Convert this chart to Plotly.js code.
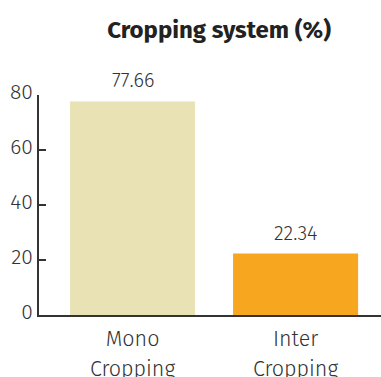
<!DOCTYPE html>
<html>
<head>
<meta charset="utf-8">
<script src="https://cdn.plot.ly/plotly-3.0.1.min.js"></script>
<style>html,body{margin:0;padding:0;background:#fff;}#chart{width:381px;height:377px;}</style>
</head>
<body>
<div id="chart"></div>
<script>
const categories = ["Mono Cropping", "Inter Cropping"];
const tickLines = [["Mono", "Cropping"], ["Inter", "Cropping"]];
const values = [77.66, 22.34];
const barColors = ["#e8e2b4", "#f6a61f"];
const yTicks = [0, 20, 40, 60, 80];

const fontFam = "Fira Sans, Noto Sans, Open Sans, sans-serif";
const lightFont = {family: fontFam, size: 20, color: "#333", weight: 300};

const trace = {
  type: "bar",
  x: categories,
  y: values,
  marker: {color: barColors, line: {width: 0}},
  hoverinfo: "none"
};

const annotations = categories.map((c, i) => ({
  x: c, y: values[i], xref: "x", yref: "y",
  text: values[i].toFixed(2),
  showarrow: false, yanchor: "bottom", yshift: 7,
  font: lightFont
}));

const layout = {
  width: 381,
  height: 377,
  margin: {l: 39, r: 0, t: 95, b: 62},
  paper_bgcolor: "#fff",
  plot_bgcolor: "#fff",
  showlegend: false,
  bargap: 0.233,
  annotations: annotations,
  title: {
    text: "<b>Cropping system (%)</b>",
    font: {family: fontFam, size: 24, color: "#222"},
    xref: "container", x: 0.575, xanchor: "center",
    yref: "container", y: 0.922, yanchor: "middle"
  },
  xaxis: {
    type: "category",
    range: [-0.574, 1.524],
    tickvals: categories,
    ticktext: tickLines.map(l => l.map(s => '<span style="font-size:21.5px">' + s + '</span>').join("<br>")),
    ticks: "",
    ticklabelstandoff: 1,
    showline: true,
    linecolor: "#333",
    linewidth: 2,
    showgrid: false,
    zeroline: false,
    tickfont: {family: fontFam, size: 23, color: "#333", weight: 300},
    fixedrange: true
  },
  yaxis: {
    range: [0, 80],
    tickvals: yTicks,
    ticks: "inside",
    ticklen: 7,
    tickwidth: 2,
    tickcolor: "#333",
    showline: true,
    linecolor: "#333",
    linewidth: 2,
    showgrid: false,
    zeroline: false,
    ticklabelshift: -3,
    tickfont: {family: fontFam, size: 21, color: "#333", weight: 300},
    fixedrange: true
  }
};

Plotly.newPlot("chart", [trace], layout, {staticPlot: true, displayModeBar: false});
</script>
</body>
</html>
